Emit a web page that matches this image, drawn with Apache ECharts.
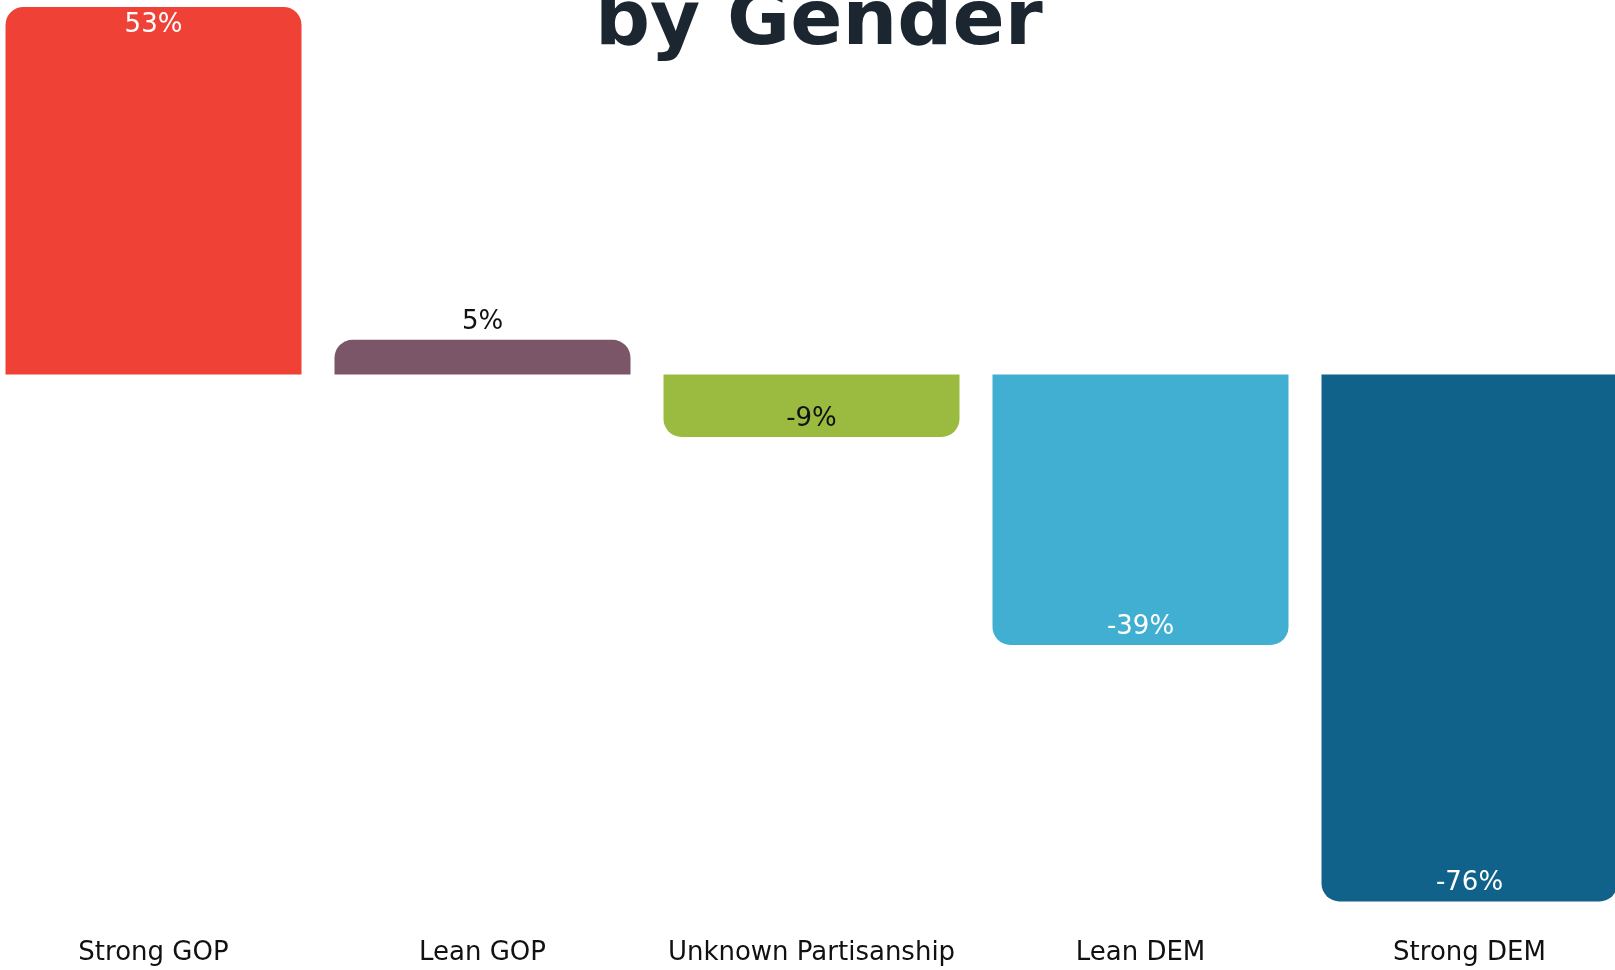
<!DOCTYPE html>
<html>
<head>
<meta charset="utf-8">
<script src="https://cdn.jsdelivr.net/npm/echarts@6/dist/echarts.min.js"></script>
<style>
  html, body { margin: 0; padding: 0; background: #fff; overflow: hidden; }
  /* the plot is wider than the window: its outer bars run past both edges */
  #chart { position: absolute; left: -11px; top: 0; width: 1645px; height: 970px; }
</style>
</head>
<body>
<div id="chart"></div>
<script>
// data
var categories = ['Strong GOP', 'Lean GOP', 'Unknown Partisanship', 'Lean DEM', 'Strong DEM'];
var values = [53, 5, -9, -39, -76];
var barColors = ['#EF4136', '#7B5568', '#9BBB40', '#41AFD1', '#10628A'];
var labelColors = ['#ffffff', '#111111', '#111111', '#ffffff', '#ffffff'];

document.addEventListener("DOMContentLoaded", function () {
    var chart = echarts.init(document.getElementById('chart'));

    var seriesData = values.map(function (v, i) {
        var radius = v >= 0 ? [18, 18, 0, 0] : [0, 0, 18, 18];
        var pos;
        if (v < 0) pos = 'insideBottom';
        else if (v < 10) pos = 'top';
        else pos = 'insideTop';
        return {
            value: v,
            itemStyle: { color: barColors[i], borderRadius: radius },
            label: { position: pos, color: labelColors[i] }
        };
    });

    var option = {
        animation: false,
        title: {
            text: 'by Gender',
            left: 601,
            top: -20,
            textStyle: {
                fontFamily: 'DejaVu Sans',
                fontWeight: 900,
                fontSize: 77,
                color: '#1C2630'
            }
        },
        grid: { left: 0, right: 0, top: 7, bottom: 40.8, containLabel: false },
        xAxis: {
            type: 'category',
            data: categories,
            position: 'bottom',
            axisLine: { show: false, onZero: false },
            axisTick: { show: false },
            axisLabel: {
                interval: 0,
                margin: 11,
                fontFamily: 'DejaVu Sans',
                fontSize: 26,
                color: '#111'
            }
        },
        yAxis: {
            type: 'value',
            min: -80,
            max: 53,
            show: false,
            splitLine: { show: false }
        },
        series: [{
            type: 'bar',
            data: seriesData,
            barWidth: 296,
            label: {
                show: true,
                formatter: '{c}%',
                distance: 5,
                fontFamily: 'DejaVu Sans',
                fontSize: 26
            }
        }]
    };

    chart.setOption(option);
});
</script>
</body>
</html>
